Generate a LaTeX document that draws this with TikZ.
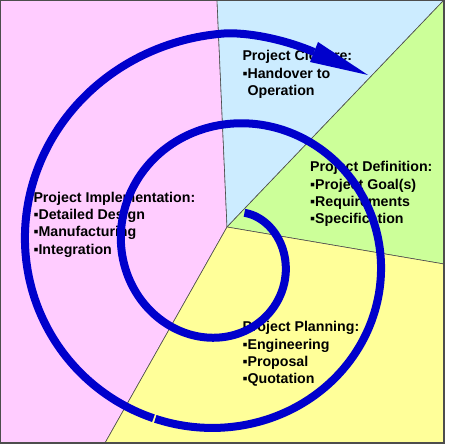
\documentclass[tikz,border=0pt]{standalone}
\usepackage{fontspec}
\setmainfont{Liberation Sans}
\definecolor{pinkreg}{HTML}{FFCCFF}
\definecolor{bluereg}{HTML}{CCECFF}
\definecolor{greenreg}{HTML}{CCFF99}
\definecolor{yellowreg}{HTML}{FFFF99}
\definecolor{spiralblue}{HTML}{0000CC}
\definecolor{edgegray}{HTML}{4D4D4D}
\tikzset{
  region/.style={draw=edgegray, line width=0.6pt},
  lbl/.style={anchor=base west, inner sep=0pt, font=\fontsize{14.2}{17.3}\selectfont\bfseries, text=black},
  spiral/.style={draw=spiralblue, line width=8pt, line cap=butt},
  tip/.style={fill=spiralblue, draw=none}
}
\begin{document}
\begin{tikzpicture}[x=1pt,y=-1pt]
\useasboundingbox (0,0) rectangle (450,444);
\fill[white] (0,0) rectangle (450,444);
\coordinate (C) at (227,227);
% regions
\filldraw[region, fill=pinkreg] (0,0) -- (217,0) -- (C) -- (105,443) -- (0,443) -- cycle;
\filldraw[region, fill=bluereg] (217,0) -- (444,0) -- (C) -- cycle;
\filldraw[region, fill=greenreg] (444,0) -- (444,264) -- (C) -- cycle;
\filldraw[region, fill=yellowreg] (C) -- (444,264) -- (444,443) -- (105,443) -- cycle;
\draw[edgegray, line width=1.2pt] (0,0) rectangle (444,443);
% labels
\node[lbl] (c1) at (242.3,61) {Project Closure:};
\node[lbl] (c2) at (242.3,78.3) {▪Handover to};
\node[lbl] (c3) at (242.3,95.6) {\phantom{▪}Operation};
\node[lbl] (d1) at (310,171.7) {Project Definition:};
\node[lbl] (d2) at (310,189) {▪Project Goal(s)};
\node[lbl] (d3) at (310,206.3) {▪Requirements};
\node[lbl] (d4) at (310,223.6) {▪Specification};
\node[lbl] (i1) at (33.3,202.3) {Project Implementation:};
\node[lbl] (i2) at (33.3,219.6) {▪Detailed Design};
\node[lbl] (i3) at (33.3,236.9) {▪Manufacturing};
\node[lbl] (i4) at (33.3,254.2) {▪Integration};
\node[lbl] (p1) at (242.3,331.7) {Project Planning:};
\node[lbl] (p2) at (242.3,349) {▪Engineering};
\node[lbl] (p3) at (242.3,366.3) {▪Proposal};
\node[lbl] (p4) at (242.3,383.6) {▪Quotation};
% spiral
\draw[spiral] plot[domain=-64:473, samples=160, smooth]
  ({227+(56.9+24.1*\x/90)*cos(\x)}, {253+(60.85+22.7*\x/90)*sin(\x)});
\draw[spiral] plot[domain=473.6:630, samples=60, smooth]
  ({227+(56.9+24.1*\x/90)*cos(\x)}, {253+(60.85+22.7*\x/90)*sin(\x)})
  .. controls (255,33) and (288,41) .. (314,52) coordinate (shaftend);
\coordinate (tipA) at (318,42);
\coordinate (tipB) at (368,75);
\coordinate (tipC) at (310,62);
\fill[tip] (tipA) -- (tipB) -- (tipC) -- cycle;
\end{tikzpicture}
\end{document}
